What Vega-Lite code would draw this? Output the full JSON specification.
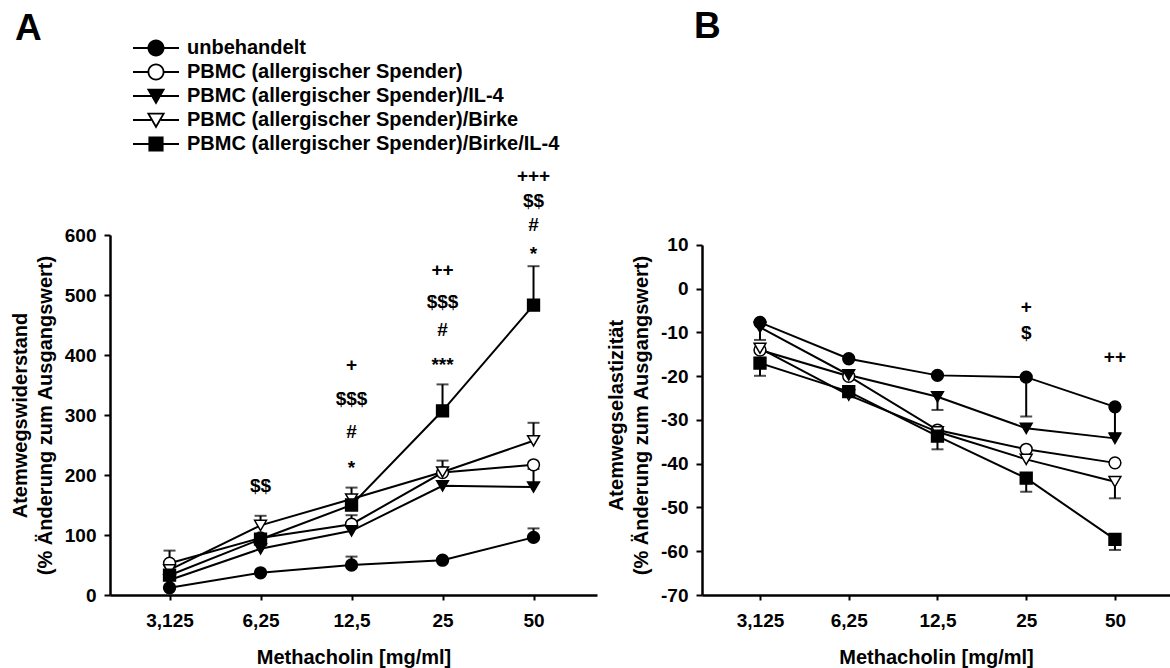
{
  "$schema": "https://vega.github.io/schema/vega-lite/v6.json",
  "autosize": {"type": "none"},
  "padding": {"left": 110, "top": 235, "right": 1060, "bottom": 433},
  "background": "white",
  "config": {
    "view": {"stroke": null},
    "font": "Liberation Sans",
    "axis": {
      "domainColor": "black", "domainWidth": 2.5, "tickColor": "black", "tickWidth": 2,
      "labelFont": "Liberation Sans", "labelFontSize": 19, "labelFontWeight": "bold", "labelColor": "black",
      "titleFont": "Liberation Sans", "titleFontSize": 20, "titleFontWeight": "bold", "titleColor": "black",
      "grid": false
    },
    "axisX": {"labelAngle": 0, "tickSize": 5, "labelPadding": 11, "titlePadding": 17},
    "axisY": {"tickSize": 6, "labelPadding": 8, "titlePadding": 9, "titleLineHeight": 25, "labelExpr": "'' + datum.value"}
  },
  "datasets": {
    "A": [
      {"group": "unbehandelt", "dose": "3,125", "mean": 12, "err": null},
      {"group": "unbehandelt", "dose": "6,25", "mean": 37, "err": null},
      {"group": "unbehandelt", "dose": "12,5", "mean": 50, "err": 64},
      {"group": "unbehandelt", "dose": "25", "mean": 58, "err": null},
      {"group": "unbehandelt", "dose": "50", "mean": 96, "err": 111},
      {"group": "PBMC (allergischer Spender)", "dose": "3,125", "mean": 53, "err": 74},
      {"group": "PBMC (allergischer Spender)", "dose": "6,25", "mean": 95, "err": null},
      {"group": "PBMC (allergischer Spender)", "dose": "12,5", "mean": 118, "err": 133},
      {"group": "PBMC (allergischer Spender)", "dose": "25", "mean": 204, "err": 224},
      {"group": "PBMC (allergischer Spender)", "dose": "50", "mean": 217, "err": null},
      {"group": "PBMC (allergischer Spender)/IL-4", "dose": "3,125", "mean": 25, "err": null},
      {"group": "PBMC (allergischer Spender)/IL-4", "dose": "6,25", "mean": 77, "err": null},
      {"group": "PBMC (allergischer Spender)/IL-4", "dose": "12,5", "mean": 107, "err": null},
      {"group": "PBMC (allergischer Spender)/IL-4", "dose": "25", "mean": 182, "err": null},
      {"group": "PBMC (allergischer Spender)/IL-4", "dose": "50", "mean": 180, "err": 210},
      {"group": "PBMC (allergischer Spender)/Birke", "dose": "3,125", "mean": 42, "err": null},
      {"group": "PBMC (allergischer Spender)/Birke", "dose": "6,25", "mean": 116, "err": 132},
      {"group": "PBMC (allergischer Spender)/Birke", "dose": "12,5", "mean": 160, "err": 179},
      {"group": "PBMC (allergischer Spender)/Birke", "dose": "25", "mean": 205, "err": null},
      {"group": "PBMC (allergischer Spender)/Birke", "dose": "50", "mean": 257, "err": 287},
      {"group": "PBMC (allergischer Spender)/Birke/IL-4", "dose": "3,125", "mean": 33, "err": null},
      {"group": "PBMC (allergischer Spender)/Birke/IL-4", "dose": "6,25", "mean": 93, "err": null},
      {"group": "PBMC (allergischer Spender)/Birke/IL-4", "dose": "12,5", "mean": 150, "err": null},
      {"group": "PBMC (allergischer Spender)/Birke/IL-4", "dose": "25", "mean": 307, "err": 351},
      {"group": "PBMC (allergischer Spender)/Birke/IL-4", "dose": "50", "mean": 483, "err": 548}
    ],
    "B": [
      {"group": "unbehandelt", "dose": "3,125", "mean": -7.7, "err": -11.7},
      {"group": "unbehandelt", "dose": "6,25", "mean": -16, "err": null},
      {"group": "unbehandelt", "dose": "12,5", "mean": -19.8, "err": null},
      {"group": "unbehandelt", "dose": "25", "mean": -20.2, "err": -29.2},
      {"group": "unbehandelt", "dose": "50", "mean": -27, "err": -33},
      {"group": "PBMC (allergischer Spender)", "dose": "3,125", "mean": -14, "err": null},
      {"group": "PBMC (allergischer Spender)", "dose": "6,25", "mean": -20, "err": null},
      {"group": "PBMC (allergischer Spender)", "dose": "12,5", "mean": -32.3, "err": null},
      {"group": "PBMC (allergischer Spender)", "dose": "25", "mean": -36.7, "err": null},
      {"group": "PBMC (allergischer Spender)", "dose": "50", "mean": -39.8, "err": null},
      {"group": "PBMC (allergischer Spender)/IL-4", "dose": "3,125", "mean": -8.8, "err": null},
      {"group": "PBMC (allergischer Spender)/IL-4", "dose": "6,25", "mean": -19.7, "err": null},
      {"group": "PBMC (allergischer Spender)/IL-4", "dose": "12,5", "mean": -24.7, "err": -27.7},
      {"group": "PBMC (allergischer Spender)/IL-4", "dose": "25", "mean": -31.9, "err": null},
      {"group": "PBMC (allergischer Spender)/IL-4", "dose": "50", "mean": -34.2, "err": null},
      {"group": "PBMC (allergischer Spender)/Birke", "dose": "3,125", "mean": -13.6, "err": null},
      {"group": "PBMC (allergischer Spender)/Birke", "dose": "6,25", "mean": -24.3, "err": null},
      {"group": "PBMC (allergischer Spender)/Birke", "dose": "12,5", "mean": -32.7, "err": null},
      {"group": "PBMC (allergischer Spender)/Birke", "dose": "25", "mean": -39, "err": null},
      {"group": "PBMC (allergischer Spender)/Birke", "dose": "50", "mean": -44.1, "err": -47.9},
      {"group": "PBMC (allergischer Spender)/Birke/IL-4", "dose": "3,125", "mean": -17, "err": -19.9},
      {"group": "PBMC (allergischer Spender)/Birke/IL-4", "dose": "6,25", "mean": -23.5, "err": null},
      {"group": "PBMC (allergischer Spender)/Birke/IL-4", "dose": "12,5", "mean": -33.7, "err": -36.7},
      {"group": "PBMC (allergischer Spender)/Birke/IL-4", "dose": "25", "mean": -43.3, "err": -46.4},
      {"group": "PBMC (allergischer Spender)/Birke/IL-4", "dose": "50", "mean": -57.3, "err": -59.7}
    ],
    "annA": [
      {"dose": "6,25", "y": 181, "label": "$$"},
      {"dose": "12,5", "y": 383, "label": "+"},
      {"dose": "12,5", "y": 327, "label": "$$$"},
      {"dose": "12,5", "y": 271, "label": "#"},
      {"dose": "12,5", "y": 211, "label": "*"},
      {"dose": "25", "y": 542, "label": "++"},
      {"dose": "25", "y": 489, "label": "$$$"},
      {"dose": "25", "y": 442, "label": "#"},
      {"dose": "25", "y": 383, "label": "***"},
      {"dose": "50", "y": 699, "label": "+++"},
      {"dose": "50", "y": 657, "label": "$$"},
      {"dose": "50", "y": 616, "label": "#"},
      {"dose": "50", "y": 569, "label": "*"}
    ],
    "annB": [
      {"dose": "25", "y": -4.1, "label": "+"},
      {"dose": "25", "y": -10.2, "label": "$"},
      {"dose": "50", "y": -15.7, "label": "++"}
    ]
  },
  "bounds": "flush",
  "spacing": 105,
  "resolve": {"scale": {"shape": "independent", "fill": "independent"}, "legend": {"shape": "independent", "fill": "independent"}},
  "hconcat": [
    {
      "width": 487,
      "height": 360,
      "title": {"text": "A", "anchor": "start", "frame": "group", "fontSize": 37, "fontWeight": "bold", "font": "Liberation Sans", "color": "black", "dx": -95, "dy": 24, "offset": 10},
      "resolve": {"scale": {"shape": "independent", "fill": "independent"}, "legend": {"shape": "independent", "fill": "independent"}},
      "layer": [
        {
          "data": {"name": "A"},
          "mark": {"type": "line", "color": "black", "strokeWidth": 2},
          "encoding": {
            "x": {"field": "dose", "type": "ordinal", "scale": {"type": "point", "domain": ["3,125", "6,25", "12,5", "25", "50"], "padding": 0.676, "align": 0.484}, "axis": {"title": "Methacholin [mg/ml]"}},
            "y": {"field": "mean", "type": "quantitative", "scale": {"domain": [0, 600]}, "axis": {"values": [0, 100, 200, 300, 400, 500, 600], "title": ["Atemwegswiderstand", "(% Änderung zum Ausgangswert)"]}},
            "detail": {"field": "group"}
          }
        },
        {
          "data": {"name": "A"},
          "transform": [{"filter": "datum.err != null"}],
          "mark": {"type": "rule", "color": "black", "strokeWidth": 2},
          "encoding": {
            "x": {"field": "dose", "type": "ordinal"},
            "y": {"field": "mean", "type": "quantitative"},
            "y2": {"field": "err"}
          }
        },
        {
          "data": {"name": "A"},
          "transform": [{"filter": "datum.err != null"}],
          "mark": {"type": "tick", "color": "black", "thickness": 2, "size": 12},
          "encoding": {
            "x": {"field": "dose", "type": "ordinal"},
            "y": {"field": "err", "type": "quantitative"}
          }
        },
        {
          "data": {"name": "A"},
          "mark": {"type": "point", "filled": true, "size": 140, "stroke": "black", "strokeWidth": 1.5, "opacity": 1},
          "encoding": {
            "x": {"field": "dose", "type": "ordinal"},
            "y": {"field": "mean", "type": "quantitative"},
            "shape": {
              "field": "group", "type": "nominal", "legend": null,
              "scale": {"domain": ["unbehandelt", "PBMC (allergischer Spender)", "PBMC (allergischer Spender)/IL-4", "PBMC (allergischer Spender)/Birke", "PBMC (allergischer Spender)/Birke/IL-4"], "range": ["circle", "circle", "triangle-down", "triangle-down", "square"]}
            },
            "fill": {
              "field": "group", "type": "nominal", "legend": null,
              "scale": {"domain": ["unbehandelt", "PBMC (allergischer Spender)", "PBMC (allergischer Spender)/IL-4", "PBMC (allergischer Spender)/Birke", "PBMC (allergischer Spender)/Birke/IL-4"], "range": ["black", "white", "black", "white", "black"]}
            }
          }
        },
        {
          "data": {"name": "A"},
          "transform": [{"filter": "false"}],
          "mark": {"type": "point", "filled": true, "color": "black", "opacity": 1, "strokeWidth": 0},
          "encoding": {
            "shape": {
              "field": "group", "type": "nominal",
              "scale": {
                "domain": ["unbehandelt", "PBMC (allergischer Spender)", "PBMC (allergischer Spender)/IL-4", "PBMC (allergischer Spender)/Birke", "PBMC (allergischer Spender)/Birke/IL-4"],
                "range": [
                  "M-1.643,-0.071H1.643V0.071H-1.643Z M0.607,0A0.607,0.607 0 1,1 -0.607,0A0.607,0.607 0 1,1 0.607,0Z",
                  "M-1.643,-0.071H-0.59V0.071H-1.643Z M0.59,-0.071H1.643V0.071H0.59Z M0.607,0A0.607,0.607 0 1,1 -0.607,0A0.607,0.607 0 1,1 0.607,0Z M0.478,0A0.478,0.478 0 1,0 -0.478,0A0.478,0.478 0 1,0 0.478,0Z",
                  "M-1.643,-0.071H1.643V0.071H-1.643Z M-0.657,-0.526L0.657,-0.526L0,0.624Z",
                  "M-1.643,-0.071H-0.35V0.071H-1.643Z M0.35,-0.071H1.643V0.071H0.35Z M-0.657,-0.526L0.657,-0.526L0,0.624Z M-0.435,-0.397L0,0.364L0.435,-0.397Z",
                  "M-1.643,-0.071H1.643V0.071H-1.643Z M-0.542,-0.542H0.542V0.542H-0.542Z"
                ]
              },
              "legend": {
                "title": null, "orient": "none", "legendX": 32, "legendY": -201, "padding": 0,
                "labelFont": "Liberation Sans", "labelFontSize": 20, "labelFontWeight": "bold", "labelColor": "black", "labelLimit": 0, "labelOffset": 17,
                "symbolSize": 784, "symbolFillColor": "black", "symbolStrokeWidth": 0, "symbolOpacity": 1, "rowPadding": 0
              }
            }
          }
        },
        {
          "data": {"name": "annA"},
          "mark": {"type": "text", "font": "Liberation Sans", "fontSize": 19, "fontWeight": "bold", "color": "black", "baseline": "middle", "align": "center", "clip": false},
          "encoding": {
            "x": {"field": "dose", "type": "ordinal"},
            "y": {"field": "y", "type": "quantitative"},
            "text": {"field": "label"}
          }
        }
      ]
    },
    {
      "width": 468,
      "height": 360,
      "title": {"text": "B", "anchor": "start", "frame": "group", "fontSize": 37, "fontWeight": "bold", "font": "Liberation Sans", "color": "black", "dx": -8, "offset": 189},
      "layer": [
        {
          "data": {"name": "B"},
          "mark": {"type": "line", "color": "black", "strokeWidth": 2},
          "encoding": {
            "x": {"field": "dose", "type": "ordinal", "scale": {"type": "point", "domain": ["3,125", "6,25", "12,5", "25", "50"], "padding": 0.637, "align": 0.513}, "axis": {"title": "Methacholin [mg/ml]"}},
            "y": {"field": "mean", "type": "quantitative", "scale": {"domain": [-70, 12.2857], "nice": false}, "axis": {"values": [-70, -60, -50, -40, -30, -20, -10, 0, 10], "domainDash": [350, 60], "title": ["Atemwegselastizität", "(% Änderung zum Ausgangswert)"]}},
            "detail": {"field": "group"}
          }
        },
        {
          "data": {"name": "B"},
          "transform": [{"filter": "datum.err != null"}],
          "mark": {"type": "rule", "color": "black", "strokeWidth": 2},
          "encoding": {
            "x": {"field": "dose", "type": "ordinal"},
            "y": {"field": "mean", "type": "quantitative"},
            "y2": {"field": "err"}
          }
        },
        {
          "data": {"name": "B"},
          "transform": [{"filter": "datum.err != null"}],
          "mark": {"type": "tick", "color": "black", "thickness": 2, "size": 12},
          "encoding": {
            "x": {"field": "dose", "type": "ordinal"},
            "y": {"field": "err", "type": "quantitative"}
          }
        },
        {
          "data": {"name": "B"},
          "mark": {"type": "point", "filled": true, "size": 140, "stroke": "black", "strokeWidth": 1.5, "opacity": 1},
          "encoding": {
            "x": {"field": "dose", "type": "ordinal"},
            "y": {"field": "mean", "type": "quantitative"},
            "shape": {
              "field": "group", "type": "nominal", "legend": null,
              "scale": {"domain": ["unbehandelt", "PBMC (allergischer Spender)", "PBMC (allergischer Spender)/IL-4", "PBMC (allergischer Spender)/Birke", "PBMC (allergischer Spender)/Birke/IL-4"], "range": ["circle", "circle", "triangle-down", "triangle-down", "square"]}
            },
            "fill": {
              "field": "group", "type": "nominal", "legend": null,
              "scale": {"domain": ["unbehandelt", "PBMC (allergischer Spender)", "PBMC (allergischer Spender)/IL-4", "PBMC (allergischer Spender)/Birke", "PBMC (allergischer Spender)/Birke/IL-4"], "range": ["black", "white", "black", "white", "black"]}
            }
          }
        },
        {
          "data": {"name": "annB"},
          "mark": {"type": "text", "font": "Liberation Sans", "fontSize": 19, "fontWeight": "bold", "color": "black", "baseline": "middle", "align": "center", "clip": false},
          "encoding": {
            "x": {"field": "dose", "type": "ordinal"},
            "y": {"field": "y", "type": "quantitative"},
            "text": {"field": "label"}
          }
        }
      ]
    }
  ]
}
